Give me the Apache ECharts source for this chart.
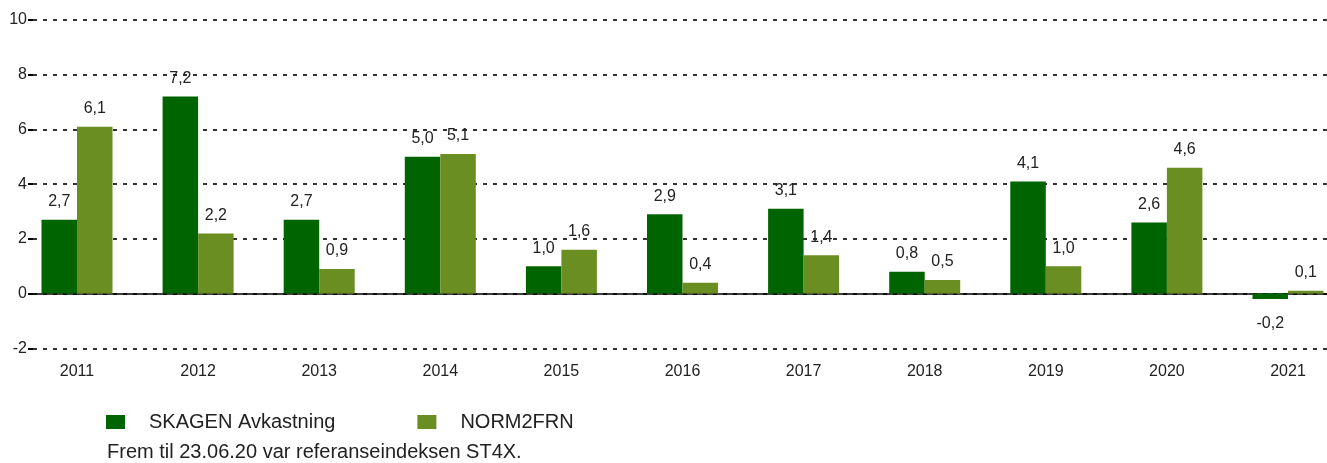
<!DOCTYPE html>
<html>
<head>
<meta charset="utf-8">
<script src="https://cdn.jsdelivr.net/npm/echarts@6/dist/echarts.min.js"></script>
<style>
html,body{margin:0;padding:0;background:#fff;}
#c{width:1327px;height:463px;}
</style>
</head>
<body>
<div id="c"></div>
<script>
const categories = ['2011','2012','2013','2014','2015','2016','2017','2018','2019','2020','2021'];
const skagen = [2.7, 7.2, 2.7, 5.0, 1.0, 2.9, 3.1, 0.8, 4.1, 2.6, -0.2];
const norm2frn = [6.1, 2.2, 0.9, 5.1, 1.6, 0.4, 1.4, 0.5, 1.0, 4.6, 0.1];
const seriesNames = ['SKAGEN Avkastning', 'NORM2FRN'];
const footnote = 'Frem til 23.06.20 var referanseindeksen ST4X.';
const yMin = -2, yMax = 10, yStep = 2;

const FONT = '"Liberation Sans", Arial, sans-serif';
const TXT = '#222';
const fmt = v => v.toFixed(1).replace('.', ',');

function toData(arr) {
  return arr.map(v => ({
    value: v,
    label: v < 0 ? { position: 'bottom', distance: 17 } : { position: 'top', distance: 10 }
  }));
}

const chart = echarts.init(document.getElementById('c'), null, { renderer: 'canvas' });
chart.setOption({
  animation: false,
  backgroundColor: '#fff',
  textStyle: { fontFamily: FONT },
  grid: [
    { left: 33, right: 0, top: 20, height: 328.3, containLabel: false, outerBoundsMode: 'none' },
    { left: 16.45, right: -21.55, top: 20, height: 328.3, containLabel: false, outerBoundsMode: 'none' }
  ],
  xAxis: [
    {
      gridIndex: 0, type: 'value', min: 0, max: 1,
      axisLabel: { show: false }, axisTick: { show: false }, splitLine: { show: false },
      axisLine: { show: true, onZero: true, lineStyle: { color: '#000', width: 1.5 } }
    },
    {
      gridIndex: 1, type: 'category', data: categories,
      axisLine: { show: false, onZero: false }, axisTick: { show: false },
      axisLabel: { color: TXT, fontSize: 16, fontFamily: FONT, margin: 15 }
    }
  ],
  yAxis: [
    {
      gridIndex: 0, type: 'value', min: yMin, max: yMax, interval: yStep,
      axisLine: { show: false },
      axisTick: { show: true, length: 5, lineStyle: { color: '#000', width: 2 } },
      axisLabel: { color: TXT, fontSize: 16, fontFamily: FONT, margin: 6 },
      splitLine: { show: true, lineStyle: { color: '#333', width: 2, type: [4, 6] } }
    },
    {
      gridIndex: 1, type: 'value', min: yMin, max: yMax, interval: yStep, show: false,
      splitLine: { show: false }
    }
  ],
  legend: {
    left: 106, top: 412, padding: 0,
    itemWidth: 19, itemHeight: 14, itemGap: 82,
    icon: 'rect',
    data: seriesNames,
    textStyle: { color: TXT, fontSize: 20, fontFamily: FONT, padding: [0, 0, 0, 19] }
  },
  graphic: [
    { type: 'text', x: 107, y: 452, style: { text: footnote, fontSize: 20, fontFamily: FONT, fill: TXT, verticalAlign: 'middle' } }
  ],
  series: [
    {
      name: seriesNames[0], type: 'bar', xAxisIndex: 1, yAxisIndex: 1,
      data: toData(skagen), barWidth: 35.5, barGap: '0%',
      itemStyle: { color: '#006400' },
      label: { show: true, color: TXT, fontSize: 16, fontFamily: FONT, formatter: p => fmt(p.value) }
    },
    {
      name: seriesNames[1], type: 'bar', xAxisIndex: 1, yAxisIndex: 1,
      data: toData(norm2frn), barWidth: 35.5, barGap: '0%',
      itemStyle: { color: '#6B8E23' },
      label: { show: true, color: TXT, fontSize: 16, fontFamily: FONT, formatter: p => fmt(p.value) }
    }
  ]
});
</script>
</body>
</html>
